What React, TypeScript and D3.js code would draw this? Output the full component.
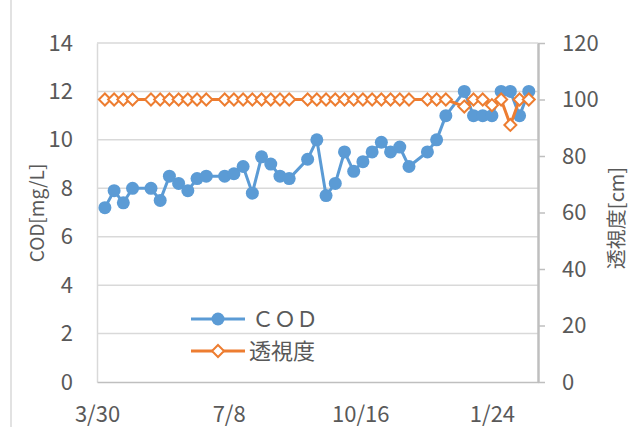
import React, { useEffect, useRef } from "react";
import * as d3 from "d3";

// weekly samples
const dates = [
  "2018-04-05", "2018-04-12", "2018-04-19", "2018-04-26", "2018-05-10", "2018-05-17",
  "2018-05-24", "2018-05-31", "2018-06-07", "2018-06-14", "2018-06-21", "2018-07-05",
  "2018-07-12", "2018-07-19", "2018-07-26", "2018-08-02", "2018-08-09", "2018-08-16",
  "2018-08-23", "2018-09-06", "2018-09-13", "2018-09-20", "2018-09-27", "2018-10-04",
  "2018-10-11", "2018-10-18", "2018-10-25", "2018-11-01", "2018-11-08", "2018-11-15",
  "2018-11-22", "2018-12-06", "2018-12-13", "2018-12-20", "2019-01-03", "2019-01-10",
  "2019-01-17", "2019-01-24", "2019-01-31", "2019-02-07", "2019-02-14", "2019-02-21",
];
const cod = [
  7.2, 7.9, 7.4, 8.0, 8.0, 7.5, 8.5, 8.2, 7.9, 8.4,
  8.5, 8.5, 8.6, 8.9, 7.8, 9.3, 9.0, 8.5, 8.4, 9.2,
  10.0, 7.7, 8.2, 9.5, 8.7, 9.1, 9.5, 9.9, 9.5, 9.7,
  8.9, 9.5, 10.0, 11.0, 12.0, 11.0, 11.0, 11.0, 12.0, 12.0,
  11.0, 12.0,
];
const clarity = [
  100, 100, 100, 100, 100, 100, 100, 100, 100, 100,
  100, 100, 100, 100, 100, 100, 100, 100, 100, 100,
  100, 100, 100, 100, 100, 100, 100, 100, 100, 100,
  100, 100, 100, 100, 97.5, 100, 100, 98, 100, 91,
  100, 100,
];
const xTicks = ["2018-03-30", "2018-07-08", "2018-10-16", "2019-01-24"];
const codTicks = [0, 2, 4, 6, 8, 10, 12, 14];
const clarityTicks = [0, 20, 40, 60, 80, 100, 120];

const FONT = "'Noto Sans CJK JP', 'Noto Sans', sans-serif";
const TEXT = "#595959";
const BLUE = "#5B9BD5";
const ORANGE = "#ED7D31";

const App = () => {
  const ref = useRef<SVGSVGElement>(null);

  useEffect(() => {
    const svg = d3.select(ref.current);
    svg.selectAll("*").remove();

    const parse = d3.timeParse("%Y-%m-%d");
    const fmt = d3.timeFormat("%-m/%-d");
    const left = 97, right = 538, top = 43, bottom = 382;

    const x = d3.scaleTime()
      .domain([parse("2018-03-30")!, parse("2019-02-28")!])
      .range([left, right]);
    const y = d3.scaleLinear().domain([0, 14]).range([bottom, top]);
    const y2 = d3.scaleLinear().domain([0, 120]).range([bottom, top]);

    const pts = dates.map((d, i) => ({ date: parse(d)!, cod: cod[i], clarity: clarity[i] }));

    // outer frame line
    svg.append("line")
      .attr("x1", 11).attr("x2", 11).attr("y1", 0).attr("y2", 427)
      .attr("stroke", "#d9d9d9").attr("stroke-width", 1.5);

    // gridlines
    svg.append("g")
      .selectAll("line")
      .data(codTicks.filter(t => t > 0))
      .enter().append("line")
      .attr("x1", left).attr("x2", right)
      .attr("y1", d => y(d)).attr("y2", d => y(d))
      .attr("stroke", "#d9d9d9").attr("stroke-width", 1.5);

    // left axis
    const yAxis = svg.append("g")
      .attr("transform", "translate(" + left + ",0)")
      .call(d3.axisLeft(y).tickValues(codTicks).tickSize(0).tickPadding(24));
    yAxis.select(".domain").attr("stroke", "#d9d9d9").attr("stroke-width", 1.5);
    yAxis.selectAll("text").attr("fill", TEXT).style("font-family", FONT).style("font-size", "22px");

    // bottom axis
    const xAxis = svg.append("g")
      .attr("transform", "translate(0," + bottom + ")")
      .call(d3.axisBottom(x).tickValues(xTicks.map(d => parse(d)!)).tickFormat(d => fmt(d as Date)).tickSize(0).tickPadding(24));
    xAxis.select(".domain").attr("stroke", "#bfbfbf").attr("stroke-width", 1.5);
    xAxis.selectAll("text").attr("fill", TEXT).style("font-family", FONT).style("font-size", "22px");

    // right axis
    const y2Axis = svg.append("g")
      .attr("transform", "translate(" + right + ",0)")
      .call(d3.axisRight(y2).tickValues(clarityTicks).tickSize(7).tickSizeOuter(0).tickPadding(17));
    y2Axis.select(".domain").attr("stroke", "#bfbfbf").attr("stroke-width", 2.5);
    y2Axis.selectAll(".tick line").attr("stroke", "#bfbfbf").attr("stroke-width", 1.5);
    y2Axis.selectAll("text").attr("fill", TEXT).style("font-family", FONT).style("font-size", "22px");

    // axis titles
    svg.append("text")
      .attr("transform", "translate(44,213) rotate(-90)")
      .attr("text-anchor", "middle")
      .attr("fill", TEXT).style("font-family", FONT).style("font-size", "19px")
      .text("COD[mg/L]");
    svg.append("text")
      .attr("transform", "translate(624,218) rotate(-90)")
      .attr("text-anchor", "middle")
      .attr("fill", TEXT).style("font-family", FONT).style("font-size", "20px")
      .text("透視度[cm]");

    // COD series
    const codLine = d3.line<any>().x(d => x(d.date)).y(d => y(d.cod));
    svg.append("path")
      .datum(pts)
      .attr("d", codLine)
      .attr("fill", "none").attr("stroke", BLUE).attr("stroke-width", 3).attr("stroke-linejoin", "round");
    svg.append("g")
      .selectAll("circle")
      .data(pts)
      .enter().append("circle")
      .attr("cx", d => x(d.date)).attr("cy", d => y(d.cod)).attr("r", 6.5)
      .attr("fill", BLUE);

    // clarity series
    const clLine = d3.line<any>().x(d => x(d.date)).y(d => y2(d.clarity));
    svg.append("path")
      .datum(pts)
      .attr("d", clLine)
      .attr("fill", "none").attr("stroke", ORANGE).attr("stroke-width", 3).attr("stroke-linejoin", "round");
    const diamond = (cx: number, cy: number, r: number) =>
      "M" + cx + "," + (cy - r) + "L" + (cx + r) + "," + cy + "L" + cx + "," + (cy + r) + "L" + (cx - r) + "," + cy + "Z";
    svg.append("g")
      .selectAll("path")
      .data(pts)
      .enter().append("path")
      .attr("d", d => diamond(x(d.date), y2(d.clarity), 6))
      .attr("fill", "#fff").attr("stroke", ORANGE).attr("stroke-width", 2);

    // legend
    const lg = svg.append("g");
    lg.append("line").attr("x1", 191).attr("x2", 245).attr("y1", 319).attr("y2", 319)
      .attr("stroke", BLUE).attr("stroke-width", 3);
    lg.append("circle").attr("cx", 218).attr("cy", 319).attr("r", 6.5).attr("fill", BLUE);
    lg.append("text").attr("x", 252).attr("y", 319).attr("dy", "0.35em")
      .attr("fill", TEXT).style("font-family", FONT).style("font-size", "22px").text("ＣＯＤ");
    lg.append("line").attr("x1", 191).attr("x2", 245).attr("y1", 351).attr("y2", 351)
      .attr("stroke", ORANGE).attr("stroke-width", 3);
    lg.append("path").attr("d", diamond(218, 351, 6))
      .attr("fill", "#fff").attr("stroke", ORANGE).attr("stroke-width", 2);
    lg.append("text").attr("x", 249).attr("y", 351).attr("dy", "0.35em")
      .attr("fill", TEXT).style("font-family", FONT).style("font-size", "22px").text("透視度");
  }, []);

  return (
    <svg ref={ref} width={634} height={427}
      style={{ position: "absolute", left: 0, top: 0, background: "#fff" }} />
  );
};

export default App;
